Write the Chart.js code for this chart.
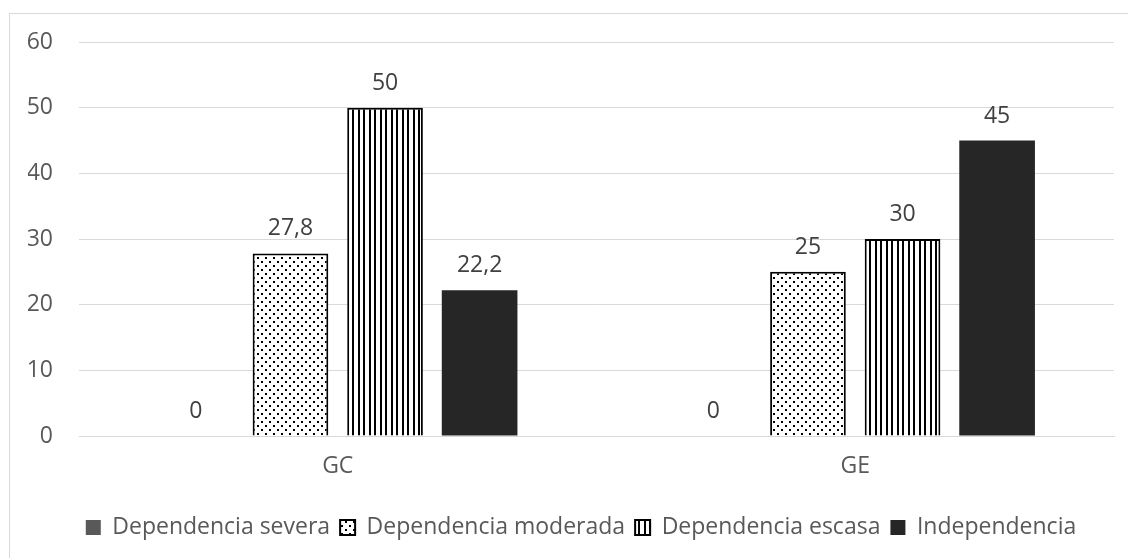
<!DOCTYPE html>
<html>
<head>
<meta charset="utf-8">
<script src="https://cdn.jsdelivr.net/npm/chart.js@4/dist/chart.umd.min.js"></script>
<style>
  html, body { margin: 0; padding: 0; background: #fff; overflow: hidden; }
  #wrap { position: relative; width: 1128px; height: 558px; }
  #frame { position: absolute; left: 9px; top: 13px; width: 1300px; height: 700px; border: 1px solid #d9d9d9; box-sizing: border-box; }
  canvas { position: absolute; left: 0; top: 0; }
</style>
</head>
<body>
<div id="wrap">
  <div id="frame"></div>
  <canvas id="chart" width="1128" height="558"></canvas>
</div>
<script>
const groups = ["GC", "GE"];
const seriesNames = ["Dependencia severa", "Dependencia moderada", "Dependencia escasa", "Independencia"];
const severa = [0, 0];
const moderada = [27.8, 25];
const escasa = [50, 30];
const independencia = [22.2, 45];
const yTicks = [0, 10, 20, 30, 40, 50, 60];

const FONT = "'Open Sans', sans-serif";

// small pattern tiles for the two hatched series
function dotPattern() {
  const c = document.createElement("canvas");
  c.width = 8; c.height = 8;
  const g = c.getContext("2d");
  g.fillStyle = "#fff";
  g.fillRect(0, 0, 8, 8);
  g.fillStyle = "#000";
  g.fillRect(1, 1, 2, 2);
  g.fillRect(5, 5, 2, 2);
  return g.createPattern(c, "repeat");
}

function stripePattern() {
  const c = document.createElement("canvas");
  c.width = 11; c.height = 4;
  const g = c.getContext("2d");
  g.fillStyle = "#fff";
  g.fillRect(0, 0, 11, 4);
  g.fillStyle = "#000";
  g.fillRect(0, 0, 2, 4);
  g.fillRect(6, 0, 2, 4);
  return g.createPattern(c, "repeat");
}

const fmt = v => String(v).replace(".", ",");

// value labels above each bar
const valueLabels = {
  id: "valueLabels",
  afterDatasetsDraw(chart) {
    const ctx = chart.ctx;
    ctx.save();
    ctx.font = "23px " + FONT;
    ctx.fillStyle = "#404040";
    ctx.textAlign = "center";
    ctx.textBaseline = "alphabetic";
    chart.data.datasets.forEach((ds, i) => {
      chart.getDatasetMeta(i).data.forEach((bar, j) => {
        ctx.fillText(fmt(ds.data[j]), bar.x, bar.y - 18);
      });
    });
    ctx.restore();
  }
};

// nudge the legend row a bit to the right, like the original
const legendShift = {
  id: "legendShift",
  afterLayout(chart) {
    chart.legend.left += 10;
    chart.legend.right += 10;
  }
};

new Chart(document.getElementById("chart"), {
  type: "bar",
  data: {
    labels: groups,
    datasets: [
      { label: seriesNames[0], data: severa, backgroundColor: "#595959", borderWidth: 0 },
      { label: seriesNames[1], data: moderada, backgroundColor: dotPattern(), borderColor: "#000", borderWidth: 2 },
      { label: seriesNames[2], data: escasa, backgroundColor: stripePattern(), borderColor: "#000", borderWidth: 2 },
      { label: seriesNames[3], data: independencia, backgroundColor: "#262626", borderWidth: 0 }
    ]
  },
  options: {
    responsive: false,
    animation: false,
    devicePixelRatio: 1,
    categoryPercentage: 0.731,
    barPercentage: 0.8,
    layout: { padding: { left: 28, right: 14, top: 42, bottom: 9 } },
    plugins: {
      legend: {
        position: "bottom",
        labels: {
          boxWidth: 15,
          boxHeight: 15,
          padding: 10,
          color: "#595959",
          font: { family: FONT, size: 23 }
        }
      },
      tooltip: { enabled: false }
    },
    scales: {
      x: {
        grid: { display: false, drawTicks: false },
        border: { display: true, color: "#d9d9d9", width: 1 },
        ticks: { color: "#595959", padding: 17, font: { family: FONT, size: 23 } },
        afterFit(axis) { axis.height = 70; }
      },
      y: {
        min: 0,
        max: 60,
        afterBuildTicks(axis) { axis.ticks = yTicks.map(v => ({ value: v })); },
        afterFit(axis) { axis.width = 51; },
        grid: { color: "#d9d9d9", drawTicks: false },
        border: { display: false },
        ticks: { color: "#595959", padding: 26, font: { family: FONT, size: 23 } }
      }
    }
  },
  plugins: [valueLabels, legendShift]
});
</script>
</body>
</html>
